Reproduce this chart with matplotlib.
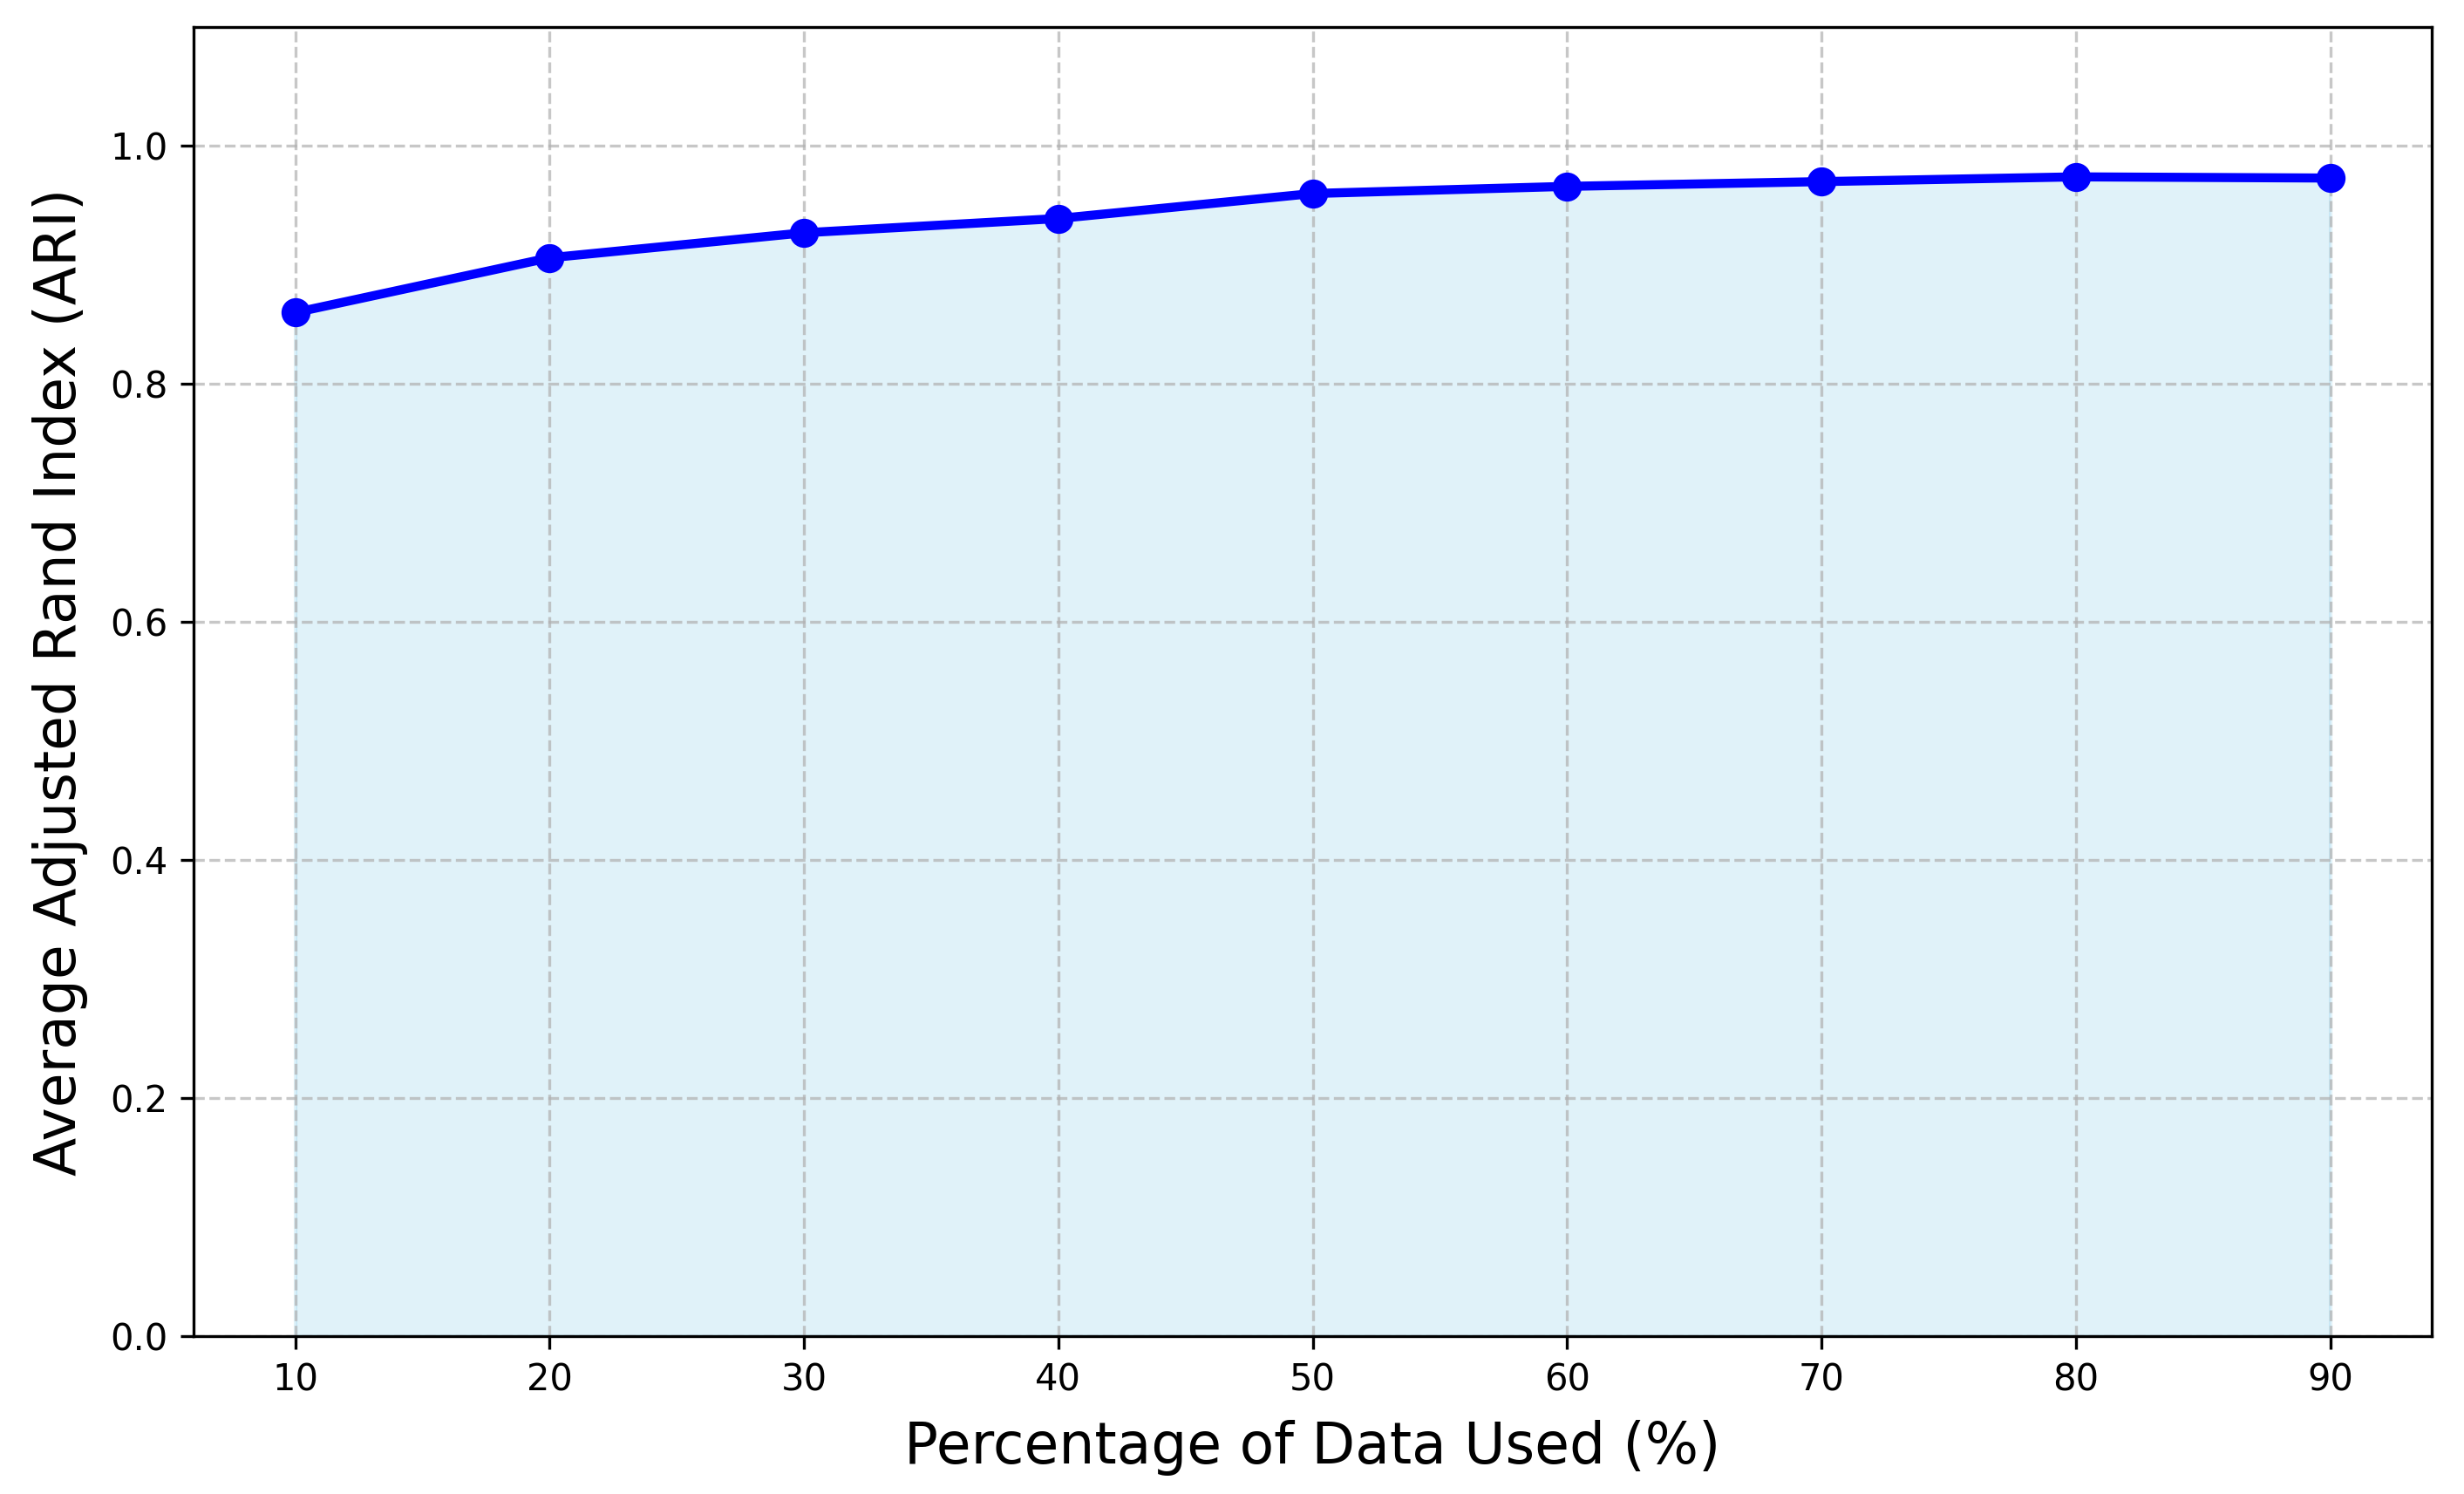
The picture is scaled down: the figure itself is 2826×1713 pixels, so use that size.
import matplotlib
matplotlib.use('Agg')
import matplotlib.pyplot as plt

percentages = [10, 20, 30, 40, 50, 60, 70, 80, 90]
avg_ari = [0.860, 0.906, 0.927, 0.939, 0.960, 0.966, 0.970, 0.974, 0.973]

fig, ax = plt.subplots(figsize=(9.42, 5.71))
fig.subplots_adjust(left=0.0785, right=0.987, top=0.982, bottom=0.1057)

ax.plot(percentages, avg_ari, marker='o', color='blue', linewidth=2.5, markersize=7)
ax.fill_between(percentages, avg_ari, color='skyblue', alpha=0.25)

ax.set_xlabel('Percentage of Data Used (%)', fontsize=15.5, labelpad=6)
ax.set_ylabel('Average Adjusted Rand Index (ARI)', fontsize=15.5, labelpad=6)
ax.set_xticks(percentages)
ax.set_ylim(0, 1.1)
ax.grid(True, linestyle='--', alpha=0.7)

plt.savefig('out.png', dpi=300)
